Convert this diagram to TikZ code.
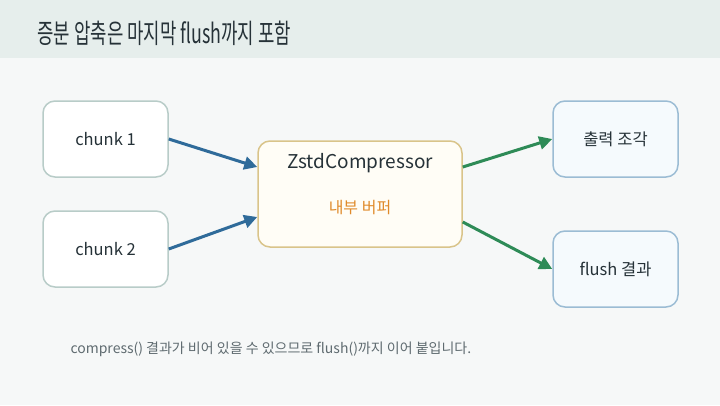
\documentclass[tikz,border=0pt]{standalone}
\usepackage{fontspec}
\setmainfont{Noto Sans CJK KR}
\newfontfamily\titlefont[FakeStretch=0.66]{Noto Sans CJK KR}
\usetikzlibrary{arrows.meta}

\definecolor{headbg}{HTML}{E6EEEC}
\definecolor{pagebg}{HTML}{F6F8F8}
\definecolor{inkdark}{HTML}{263238}
\definecolor{chunkline}{HTML}{B8CCC8}
\definecolor{compline}{HTML}{D9C48A}
\definecolor{compfill}{HTML}{FFFDF6}
\definecolor{outline}{HTML}{9BBCD4}
\definecolor{outfill}{HTML}{F5FAFD}
\definecolor{inblue}{HTML}{2F6B9A}
\definecolor{outgreen}{HTML}{2E8B57}
\definecolor{bufferorange}{HTML}{E08A2A}
\definecolor{notegray}{HTML}{5F6B70}

\begin{document}
\begin{tikzpicture}[x=1pt,y=1pt,
  chunkbox/.style={rectangle,rounded corners=12pt,draw=chunkline,line width=1.5pt,fill=white,
    minimum width=125pt,minimum height=76pt,text=inkdark,font=\fontsize{16.5}{19}\selectfont},
  compbox/.style={rectangle,rounded corners=12pt,draw=compline,line width=1.5pt,fill=compfill,
    minimum width=204pt,minimum height=106pt},
  resultbox/.style={chunkbox,draw=outline,fill=outfill},
  feed/.style={inblue,line width=3pt,-{Triangle[length=13pt,width=13pt]}},
  emit/.style={outgreen,line width=3pt,-{Triangle[length=13pt,width=13pt]}}]
  \useasboundingbox (0,0) rectangle (720,-405);

  % backgrounds
  \fill[pagebg] (0,-58) rectangle (720,-405);
  \fill[headbg] (0,0) rectangle (720,-58);
  \node[anchor=west,text=inkdark,font=\titlefont\fontsize{27}{30}\selectfont] (title) at (34,-33) {증분 압축은 마지막 flush까지 포함};

  % inputs
  \node[chunkbox] (chunkA) at (105.5,-139) {chunk 1};
  \node[chunkbox] (chunkB) at (105.5,-249) {chunk 2};

  % compressor
  \node[compbox] (comp) at (360,-194) {};
  \node[text=inkdark,font=\fontsize{19}{22}\selectfont] (compname) at (360,-163) {ZstdCompressor};
  \node[text=bufferorange,font=\fontsize{16}{19}\selectfont] (compbuf) at (360,-208) {내부 버퍼};

  % outputs
  \node[resultbox] (piece) at (615.5,-139) {출력 조각};
  \node[resultbox] (flushed) at (615.5,-269) {flush 결과};

  % arrows
  \draw[feed] (chunkA.east) -- ([yshift=27pt]comp.west);
  \draw[feed] (chunkB.east) -- ([yshift=-23pt]comp.west);
  \draw[emit] ([yshift=27pt]comp.east) -- (piece.west);
  \draw[emit] ([yshift=-28pt]comp.east) -- (flushed.west);

  % note
  \node[anchor=west,text=notegray,font=\fontsize{14}{17}\selectfont] (note) at (67,-349) {compress() 결과가 비어 있을 수 있으므로 flush()까지 이어 붙입니다.};
\end{tikzpicture}
\end{document}
